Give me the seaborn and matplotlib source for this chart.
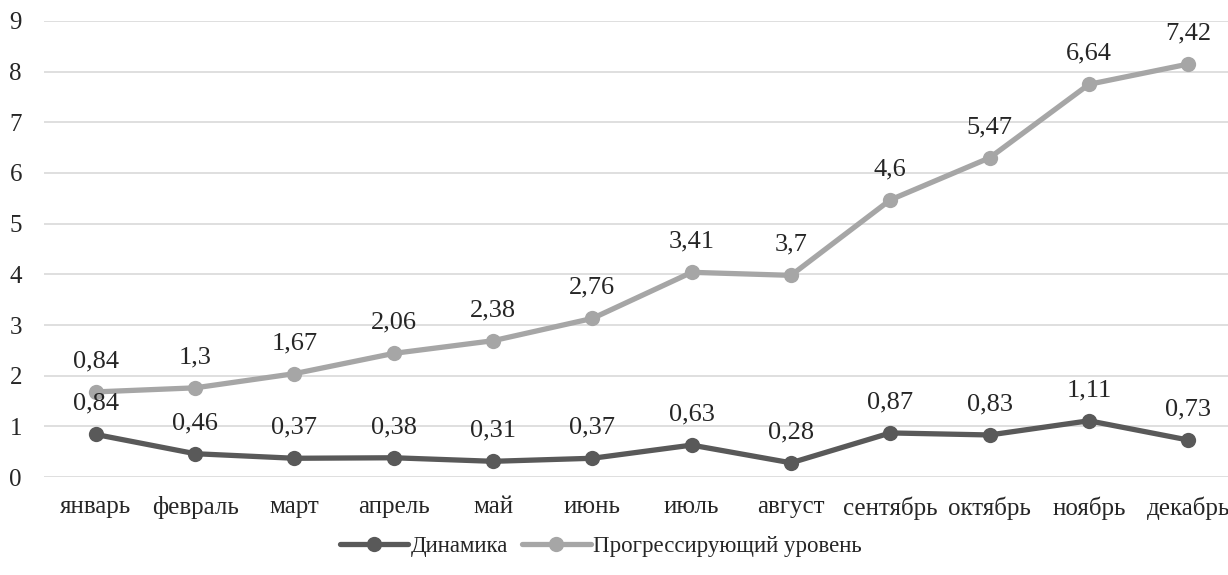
import numpy as np
import pandas as pd
import matplotlib
matplotlib.use("Agg")
import matplotlib.pyplot as plt
import seaborn as sns

months = ["январь", "февраль", "март", "апрель", "май", "июнь", "июль",
          "август", "сентябрь", "октябрь", "ноябрь", "декабрь"]
dynamics = [0.84, 0.46, 0.37, 0.38, 0.31, 0.37, 0.63, 0.28, 0.87, 0.83, 1.11, 0.73]
progressive = [0.84, 1.3, 1.67, 2.06, 2.38, 2.76, 3.41, 3.7, 4.6, 5.47, 6.64, 7.42]
series_names = ["Динамика", "Прогрессирующий уровень"]
yticks = list(range(0, 10))

# stacked line chart: second series is drawn on top of the first
stacked = np.array(dynamics) + np.array(progressive)

sns.set_theme(style="white")
plt.rcParams["font.family"] = ["Liberation Serif", "DejaVu Serif"]

fig = plt.figure(figsize=(12.28, 5.75), dpi=100)
ax = fig.add_axes([0.036, 0.1704, 0.964, 0.7931])

x = np.arange(len(months))
df = pd.DataFrame({"x": np.concatenate([x, x]),
                   "y": np.concatenate([dynamics, stacked]),
                   "s": [series_names[0]] * len(x) + [series_names[1]] * len(x)})

colors = {series_names[0]: "#595959", series_names[1]: "#a6a6a6"}
sns.lineplot(data=df, x="x", y="y", hue="s", palette=colors, marker="o",
             markersize=11, markeredgewidth=0, linewidth=3.8, ax=ax,
             legend=True, zorder=3)

for xi, yi, lab in zip(x, dynamics, dynamics):
    ax.annotate(f"{lab:g}".replace(".", ","), (xi, yi), xytext=(0, 22),
                textcoords="offset points", ha="center", va="center",
                fontsize=19, color="#262626")
for xi, yi, lab in zip(x, stacked, progressive):
    ax.annotate(f"{lab:g}".replace(".", ","), (xi, yi), xytext=(0, 22),
                textcoords="offset points", ha="center", va="center",
                fontsize=19, color="#262626")

ax.set_xlim(-0.52, 11.4)
ax.set_ylim(0, 9)
ax.set_yticks(yticks)
ax.set_xticks(x)
ax.set_xticklabels(months)
ax.yaxis.grid(True, color="#d9d9d9", linewidth=1.2)
ax.set_axisbelow(True)
for sp in ax.spines.values():
    sp.set_visible(False)
ax.tick_params(axis="x", length=0, pad=14, labelsize=18, colors="#262626")
ax.tick_params(axis="y", length=0, pad=16, labelsize=18, colors="#262626")
ax.set_xlabel("")
ax.set_ylabel("")

handles, labels = ax.get_legend_handles_labels()
ax.legend(handles, labels, loc="center", bbox_to_anchor=(0.47, -0.153),
          ncol=2, frameon=False, fontsize=16.5, handlelength=3.0,
          handletextpad=0.1, columnspacing=0.6)

fig.savefig("out.png", dpi=100)
